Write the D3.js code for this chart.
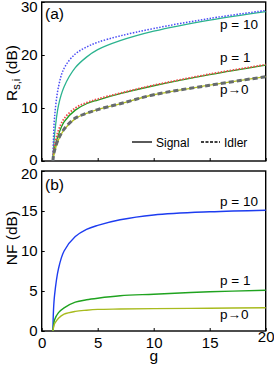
<!DOCTYPE html>
<html>
<head>
<meta charset="utf-8">
<script src="https://cdn.jsdelivr.net/npm/d3@7"></script>
<style>
  body { margin: 0; background: #fff; }
  text { font-family: "Liberation Sans", Arial, sans-serif; fill: #000; }
</style>
</head>
<body>
<svg id="chart" width="274" height="366"></svg>
<script>
// sampled gain values (g)
var gVals = [1, 1.05, 1.15, 1.5, 2, 3, 4, 5, 7, 10, 15, 20];

// panel (a): R_s,i in dB
var sig10 = [0, 2.0, 5.0, 10.5, 14.0, 17.6, 19.6, 21.0, 22.7, 24.5, 26.6, 28.2];
var idl10 = [0, 4.0, 8.3, 14.0, 17.5, 20.2, 21.5, 22.4, 23.6, 25.0, 26.9, 28.4];
var sig1 = [0, 1.0, 2.4, 5.0, 7.4, 9.6, 10.8, 11.5, 12.7, 14.2, 16.3, 18.1];
var idl1 = [0, 1.5, 3.0, 5.8, 8.0, 10.0, 11.0, 11.7, 12.8, 14.3, 16.4, 18.2];
var sig0 = [0, 0.8, 1.8, 4.0, 5.9, 8.0, 9.0, 9.7, 10.8, 12.5, 14.3, 15.9];
var idl0 = [0, 1.0, 2.0, 4.2, 6.0, 8.1, 9.0, 9.7, 10.8, 12.5, 14.3, 15.9];

// panel (b): NF in dB
var nf10 = [0, 2.5, 4.5, 7.8, 10.0, 11.8, 12.7, 13.2, 13.9, 14.5, 14.9, 15.1];
var nf1 = [0, 0.6, 1.4, 2.3, 2.9, 3.6, 3.9, 4.1, 4.4, 4.6, 4.9, 5.1];
var nf0 = [0, 0.4, 0.9, 1.6, 2.1, 2.45, 2.6, 2.7, 2.75, 2.8, 2.85, 2.9];

var xTicks = [0, 5, 10, 15, 20];
var yTicksA = [0, 10, 20, 30];
var yTicksB = [0, 5, 10, 15, 20];

var svg = d3.select("#chart");
var left = 41.7, right = 265.7;

var x = d3.scaleLinear().domain([0, 20]).range([left, right]);
var yA = d3.scaleLinear().domain([0, 30]).range([161, 2]);
var yB = d3.scaleLinear().domain([0, 20]).range([331, 171]);

function drawPanel(y, ticks, showX) {
  var g = svg.append("g");

  g.append("g")
    .attr("transform", "translate(0," + y.range()[0] + ")")
    .call(d3.axisBottom(x).tickValues(xTicks).tickSizeInner(-3).tickSizeOuter(0)
      .tickFormat(showX ? d3.format("d") : ""))
    .call(function (a) {
      a.select(".domain").remove();
      a.selectAll("line").attr("stroke-width", 1);
      a.selectAll("text").attr("font-size", 15).attr("dy", "0.95em").attr("y", 3);
    });

  g.append("g")
    .attr("transform", "translate(" + left + ",0)")
    .call(d3.axisLeft(y).tickValues(ticks).tickSizeInner(-3).tickSizeOuter(0))
    .call(function (a) {
      a.select(".domain").remove();
      a.selectAll("line").attr("stroke-width", 1);
      a.selectAll("text").attr("font-size", 15).attr("x", -4);
    });

  g.append("rect")
    .attr("x", left).attr("y", y.range()[1])
    .attr("width", right - left).attr("height", y.range()[0] - y.range()[1])
    .attr("fill", "none").attr("stroke", "#000").attr("stroke-width", 1.4);
  return g;
}

function curve(y, vals, color, width, dash) {
  var line = d3.line()
    .x(function (d, i) { return x(gVals[i]); })
    .y(function (d) { return y(d); })
    .curve(d3.curveCatmullRom.alpha(0.5));
  svg.append("path")
    .datum(vals)
    .attr("d", line)
    .attr("fill", "none")
    .attr("stroke", color)
    .attr("stroke-width", width)
    .attr("stroke-dasharray", dash || null);
}

var pa = drawPanel(yA, yTicksA, false);
var pb = drawPanel(yB, yTicksB, true);

// keep the top tick label of (a) inside the picture
pa.selectAll(".tick text").filter(function (d) { return d === 30; }).attr("dy", "0.64em");
pa.selectAll(".tick text").filter(function (d) { return d === 0; }).attr("dy", "0.25em");
pb.selectAll(".tick text").filter(function (d) { return d === 20; }).attr("dy", "0.52em");

// panel (a) curves
curve(yA, sig10, "#2bb38f", 1.3);
curve(yA, idl10, "#4a4cf5", 1.5, "1.5,1.5");
curve(yA, sig1, "#1f9e1f", 1.3);
curve(yA, idl1, "#f2484a", 1.8, "1.5,1.5");
curve(yA, sig0, "#b5c21e", 1.3);
curve(yA, idl0, "#666b6e", 3, "5,3");

// panel (b) curves
curve(yB, nf10, "#1d3cf0", 1.4);
curve(yB, nf1, "#1fa31f", 1.4);
curve(yB, nf0, "#a8bb1e", 1.4);

// labels
function label(txt, px, py, size, anchor) {
  return svg.append("text").attr("x", px).attr("y", py)
    .attr("font-size", size).attr("text-anchor", anchor || "start").text(txt);
}

label("(a)", 45, 19, 15.5);
label("(b)", 45, 190, 15.5);

label("p = 10", 220, 29, 13.5);
label("p = 1", 220, 62, 13.5);
label("p\u21920", 220, 94, 13.5);
label("p = 10", 220, 206, 13.5);
label("p = 1", 220, 285, 13.5);
label("p\u21920", 220, 319, 13.5);

// legend
svg.append("line").attr("x1", 132).attr("x2", 152).attr("y1", 142).attr("y2", 142)
  .attr("stroke", "#000").attr("stroke-width", 1.3);
label("Signal", 156, 146.5, 12);
svg.append("line").attr("x1", 201).attr("x2", 220).attr("y1", 142).attr("y2", 142)
  .attr("stroke", "#000").attr("stroke-width", 1.3).attr("stroke-dasharray", "3,1.5");
label("Idler", 224, 146.5, 12);

// axis titles
label("g", (left + right) / 2, 361, 15.5, "middle");

var ty = svg.append("text")
  .attr("transform", "translate(17,73) rotate(-90)")
  .attr("text-anchor", "middle").attr("font-size", 15.5);
ty.append("tspan").text("R");
ty.append("tspan").attr("font-size", 11).attr("dy", 3).text("s,i");
ty.append("tspan").attr("dy", -3).text(" (dB)");

svg.append("text")
  .attr("transform", "translate(17,238) rotate(-90)")
  .attr("text-anchor", "middle").attr("font-size", 15.5).text("NF (dB)");
</script>
</body>
</html>
